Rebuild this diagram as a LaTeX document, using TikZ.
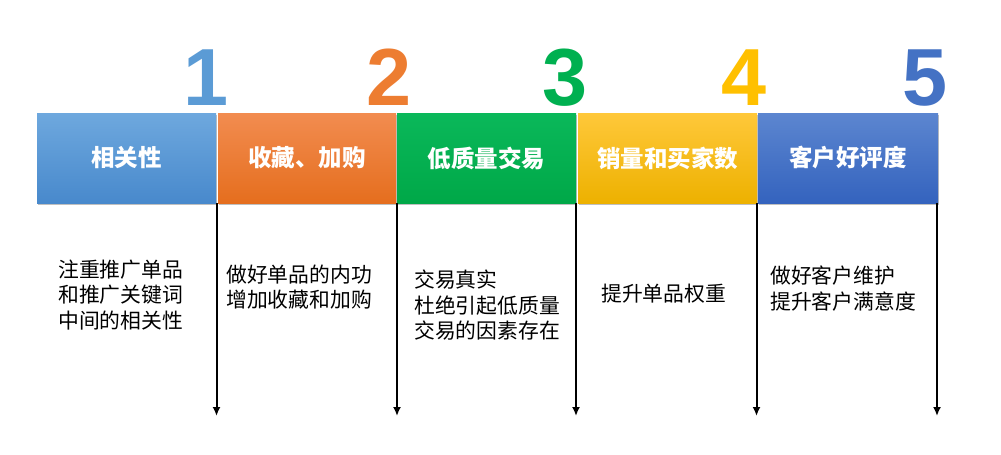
\documentclass[tikz,border=0pt]{standalone}
\usepackage{fontspec}
\newfontfamily\cjk{Noto Sans CJK SC}
\newfontfamily\numfont{Liberation Sans}
\usetikzlibrary{arrows.meta,shadows}
\definecolor{c1t}{RGB}{110,168,222}\definecolor{c1b}{RGB}{72,137,204}
\definecolor{c2t}{RGB}{242,140,80}\definecolor{c2b}{RGB}{229,110,30}
\definecolor{c3t}{RGB}{10,184,90}\definecolor{c3b}{RGB}{0,168,72}
\definecolor{c4t}{RGB}{255,200,58}\definecolor{c4b}{RGB}{237,177,0}
\definecolor{c5t}{RGB}{92,134,208}\definecolor{c5b}{RGB}{52,99,190}
\definecolor{n1}{RGB}{91,155,213}\definecolor{n2}{RGB}{237,125,49}
\definecolor{n3}{RGB}{0,176,80}\definecolor{n4}{RGB}{255,192,0}
\definecolor{n5}{RGB}{68,114,196}
\tikzset{
  stagebox/.style={inner sep=0pt, outer sep=0pt, minimum height=90pt,
    text=white, font=\cjk\bfseries\fontsize{23.5}{27}\selectfont,
    drop shadow={shadow xshift=0.5pt, shadow yshift=-2pt, opacity=0.25, fill=black}},
  numlabel/.style={inner sep=0pt, anchor=base, font=\numfont\bfseries\fontsize{81}{81}\selectfont},
  desc/.style={inner sep=0pt, anchor=west, align=left, font=\cjk\fontsize{20.8}{25.5}\selectfont},
  arr/.style={line width=2pt, -{Latex[length=9pt,width=8pt]}}
}
\begin{document}
\begin{tikzpicture}[x=1pt,y=-1pt]
\useasboundingbox[fill=white] (0,0) rectangle (1001,455);
% boxes
\node[stagebox, minimum width=179pt, top color=c1t, bottom color=c1b] (b1) at (126.5,158) {相关性};
\node[stagebox, minimum width=178pt, top color=c2t, bottom color=c2b] (b2) at (307,158) {收藏、加购};
\node[stagebox, minimum width=179pt, top color=c3t, bottom color=c3b] (b3) at (486.5,158) {低质量交易};
\node[stagebox, minimum width=179pt, top color=c4t, bottom color=c4b] (b4) at (667.5,158) {销量和买家数};
\node[stagebox, minimum width=180pt, top color=c5t, bottom color=c5b] (b5) at (848,158) {客户好评度};
% numbers
\node[numlabel, text=n1] (d1) at (206,105) {1};
\node[numlabel, text=n2] (d2) at (389,105) {2};
\node[numlabel, text=n3] (d3) at (565,105) {3};
\node[numlabel, text=n4] (d4) at (744,105) {4};
\node[numlabel, text=n5] (d5) at (925,105) {5};
% arrows
\coordinate (e1) at (216.5,416);
\coordinate (e2) at (397,416);
\coordinate (e3) at (576,416);
\coordinate (e4) at (756.5,416);
\coordinate (e5) at (937,416);
\draw[arr] (e1 |- b1.south) -- (e1);
\draw[arr] (e2 |- b2.south) -- (e2);
\draw[arr] (e3 |- b3.south) -- (e3);
\draw[arr] (e4 |- b4.south) -- (e4);
\draw[arr] (e5 |- b5.south) -- (e5);
% descriptions
\node[desc] (t1) at (58,295) {注重推广单品\\和推广关键词\\中间的相关性};
\node[desc] (t2) at (226,287) {做好单品的内功\\增加收藏和加购};
\node[desc] (t3) at (414,305.5) {交易真实\\杜绝引起低质量\\交易的因素存在};
\node[desc] (t4) at (601,294) {提升单品权重};
\node[desc] (t5) at (770,288.5) {做好客户维护\\提升客户满意度};
\end{tikzpicture}
\end{document}
